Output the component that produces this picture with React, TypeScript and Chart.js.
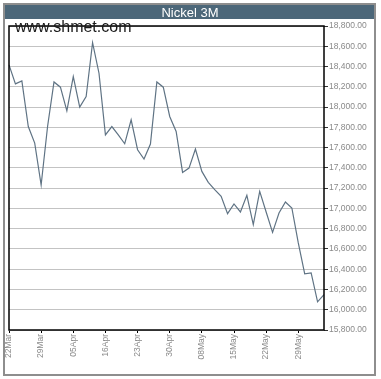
import React, { useEffect, useRef } from 'react';
import { Chart, registerables } from 'chart.js';

Chart.register(...registerables);

const dates = [
  '22Mar', '23Mar', '26Mar', '27Mar', '28Mar', '29Mar', '30Mar',
  '02Apr', '03Apr', '04Apr', '05Apr', '10Apr', '11Apr', '12Apr', '13Apr',
  '16Apr', '17Apr', '18Apr', '19Apr', '20Apr', '23Apr', '24Apr', '25Apr',
  '26Apr', '27Apr', '30Apr', '01May', '02May', '03May', '04May', '08May',
  '09May', '10May', '11May', '14May', '15May', '16May', '17May', '18May',
  '21May', '22May', '23May', '24May', '25May', '28May', '29May', '30May',
  '31May', '01Jun', '06Jun',
];

const prices = [
  18416, 18229, 18258, 17808, 17645, 17231, 17808, 18248, 18196, 17963,
  18301, 17999, 18104, 18636, 18334, 17726, 17808, 17726, 17638, 17874,
  17579, 17487, 17635, 18248, 18196, 17907, 17759, 17355, 17398, 17585,
  17365, 17257, 17185, 17119, 16948, 17044, 16965, 17129, 16840, 17168,
  16965, 16764, 16955, 17063, 17004, 16659, 16355, 16364, 16078, 16150,
];

const yMin = 15800;
const yMax = 18800;
const yStep = 200;
const labelEvery = 5;
const titleText = 'Nickel 3M';
const watermarkText = 'www.shmet.com';

export default function App() {
  const ref = useRef<HTMLCanvasElement>(null);

  useEffect(() => {
    if (!ref.current) return;
    const framePlugin = {
      id: 'frame',
      beforeDraw(chart: any) {
        const { ctx } = chart;
        ctx.save();
        ctx.fillStyle = '#ffffff';
        ctx.fillRect(0, 0, 381, 379);
        ctx.strokeStyle = '#8e8e8e';
        ctx.lineWidth = 2;
        ctx.strokeRect(4, 4, 371, 371);
        ctx.fillStyle = '#4c6779';
        ctx.fillRect(5, 5, 369, 14);
        ctx.fillStyle = '#ffffff';
        ctx.font = '13px "Liberation Sans"';
        ctx.textAlign = 'center';
        ctx.textBaseline = 'alphabetic';
        ctx.fillText(titleText, 190, 16.7);
        ctx.restore();
      },
      afterDraw(chart: any) {
        const { ctx, chartArea: a } = chart;
        ctx.save();
        ctx.strokeStyle = '#000000';
        ctx.lineWidth = 1.5;
        ctx.strokeRect(a.left, a.top, a.right - a.left, a.bottom - a.top);
        ctx.fillStyle = '#1a1a1a';
        ctx.font = '16px "Liberation Sans"';
        ctx.textAlign = 'left';
        ctx.textBaseline = 'alphabetic';
        ctx.fillText(watermarkText, 15, 32);
        ctx.restore();
      },
    };

    const chart = new Chart(ref.current, {
      type: 'line',
      data: {
        labels: dates,
        datasets: [
          {
            data: prices,
            borderColor: '#5f7384',
            borderWidth: 1.2,
            pointRadius: 0,
            tension: 0,
            fill: false,
          },
        ],
      },
      options: {
        animation: false,
        responsive: false,
        layout: { padding: { left: 9, top: 26, right: 0, bottom: 0 } },
        plugins: {
          legend: { display: false },
          title: { display: false },
          tooltip: { enabled: false },
        },
        scales: {
          x: {
            type: 'category',
            offset: false,
            border: { display: false },
            grid: {
              drawOnChartArea: false,
              drawTicks: true,
              tickLength: 3,
              tickColor: (c: any) => (c.index % labelEvery === 0 ? '#000000' : 'rgba(0,0,0,0)'),
            },
            ticks: {
              autoSkip: false,
              minRotation: 90,
              maxRotation: 90,
              padding: 1,
              color: '#8a8a8a',
              font: { family: 'Liberation Sans', size: 8.5 },
              callback: function (this: any, value: any, index: number) {
                return index % labelEvery === 0 ? this.getLabelForValue(value) : '';
              },
            },
            afterFit(scale: any) {
              scale.height = 49;
            },
          },
          y: {
            position: 'right',
            min: yMin,
            max: yMax,
            border: { display: false },
            grid: {
              color: '#c3c3c3',
              lineWidth: 1,
              drawTicks: true,
              tickLength: 4,
              tickColor: '#333333',
            },
            ticks: {
              stepSize: yStep,
              padding: 1,
              color: '#8a8a8a',
              font: { family: 'Liberation Sans', size: 8.5 },
              callback: (v: any) =>
                Number(v).toLocaleString('en-US', { minimumFractionDigits: 2, maximumFractionDigits: 2 }),
            },
            afterFit(scale: any) {
              scale.width = 57;
            },
          },
        },
      },
      plugins: [framePlugin],
    });
    return () => chart.destroy();
  }, []);

  return (
    <div style={{ position: 'absolute', left: 0, top: 0, width: 381, height: 379 }}>
      <canvas ref={ref} width={381} height={379} style={{ display: 'block', width: 381, height: 379 }} />
    </div>
  );
}
